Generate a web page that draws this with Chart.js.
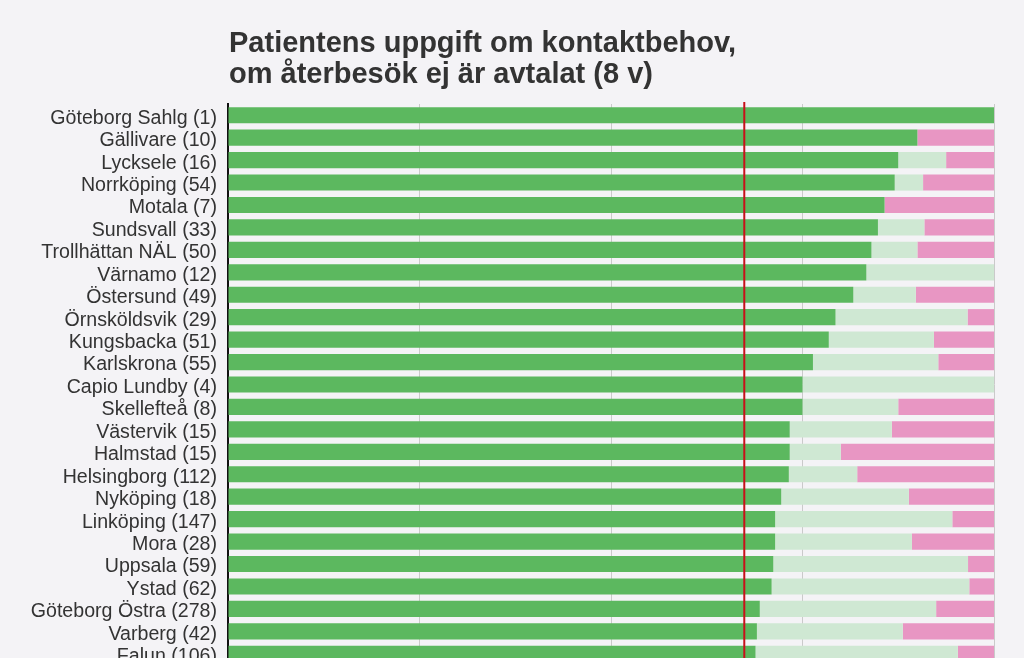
<!DOCTYPE html>
<html lang="sv">
<head>
<meta charset="utf-8">
<title>Patientens uppgift om kontaktbehov</title>
<script src="https://cdn.jsdelivr.net/npm/chart.js@4/dist/chart.umd.min.js"></script>
<style>
    html, body {
        margin: 0;
        padding: 0;
        background: #f4f3f6;
        overflow: hidden;
    }
    #wrap {
        position: relative;
        width: 1024px;
        height: 700px;
    }
</style>
</head>
<body>
<div id="wrap">
    <canvas id="kontaktChart" width="1024" height="700"></canvas>
</div>
<script>
// Kliniker (antal svar inom parentes)
const clinics = [
    'Göteborg Sahlg (1)', 'Gällivare (10)', 'Lycksele (16)', 'Norrköping (54)',
    'Motala (7)', 'Sundsvall (33)', 'Trollhättan NÄL (50)', 'Värnamo (12)',
    'Östersund (49)', 'Örnsköldsvik (29)', 'Kungsbacka (51)', 'Karlskrona (55)',
    'Capio Lundby (4)', 'Skellefteå (8)', 'Västervik (15)', 'Halmstad (15)',
    'Helsingborg (112)', 'Nyköping (18)', 'Linköping (147)', 'Mora (28)',
    'Uppsala (59)', 'Ystad (62)', 'Göteborg Östra (278)', 'Varberg (42)',
    'Falun (106)'
];

// Antal per svarskategori
const countYes     = [1, 9, 14, 47, 6, 28, 42, 10, 40, 23, 40, 42, 3, 6, 11, 11, 82, 13, 105, 20, 42, 44, 193, 29, 73];
const countPartly  = [0, 0, 1, 2, 0, 2, 3, 2, 4, 5, 7, 9, 1, 1, 2, 1, 10, 3, 34, 5, 15, 16, 64, 8, 28];
const countMissing = [0, 1, 1, 5, 1, 3, 5, 0, 5, 1, 4, 4, 0, 1, 2, 3, 20, 2, 8, 3, 2, 2, 21, 5, 5];

const xTicks = [0, 25, 50, 75, 100];
const targetLevel = 67.4; // röd målnivå (%)

// Gör om antal till andel i procent
function toShare(counts) {
    return counts.map((c, i) => {
        const total = countYes[i] + countPartly[i] + countMissing[i];
        return total ? (c / total) * 100 : 0;
    });
}

// Titel ritas vid diagramytans vänsterkant
const titlePlugin = {
    id: 'leftTitle',
    beforeDraw(chart) {
        const ctx = chart.ctx;
        ctx.save();
        ctx.fillStyle = '#f4f3f6';
        ctx.fillRect(0, 0, chart.width, chart.height);
        ctx.fillStyle = '#333333';
        ctx.font = 'bold 29px "Liberation Sans", Arial, sans-serif';
        ctx.textAlign = 'left';
        ctx.textBaseline = 'alphabetic';
        ctx.fillText('Patientens uppgift om kontaktbehov,', chart.chartArea.left + 1, 52);
        ctx.fillText('om återbesök ej är avtalat (8 v)', chart.chartArea.left + 1, 83);
        ctx.restore();
    }
};

// Röd vertikal linje för målnivån
const targetPlugin = {
    id: 'targetLine',
    afterDatasetsDraw(chart) {
        const ctx = chart.ctx;
        const x = chart.scales.x.getPixelForValue(targetLevel);
        const area = chart.chartArea;
        ctx.save();
        ctx.strokeStyle = '#c8101a';
        ctx.lineWidth = 2;
        ctx.beginPath();
        ctx.moveTo(x, area.top - 2);
        ctx.lineTo(x, area.bottom);
        ctx.stroke();
        ctx.restore();
    }
};

document.addEventListener('DOMContentLoaded', function() {
    const ctx = document.getElementById('kontaktChart').getContext('2d');
    new Chart(ctx, {
        type: 'bar',
        data: {
            labels: clinics,
            datasets: [
                {
                    label: 'Ja',
                    data: toShare(countYes),
                    backgroundColor: '#5cb85f'
                },
                {
                    label: 'Delvis',
                    data: toShare(countPartly),
                    backgroundColor: '#cfe8d3'
                },
                {
                    label: 'Uppgift saknas',
                    data: toShare(countMissing),
                    backgroundColor: '#e896c3'
                }
            ]
        },
        options: {
            indexAxis: 'y',
            responsive: false,
            animation: false,
            layout: {
                padding: { top: 104, right: 30, bottom: 35, left: 0 }
            },
            datasets: {
                bar: {
                    barPercentage: 0.72,
                    categoryPercentage: 1.0,
                    borderWidth: 0
                }
            },
            plugins: {
                legend: { display: false },
                title: { display: false },
                tooltip: { enabled: false }
            },
            scales: {
                x: {
                    stacked: true,
                    min: 0,
                    max: 100,
                    afterBuildTicks: function(scale) {
                        scale.ticks = xTicks.map(v => ({ value: v }));
                    },
                    ticks: { display: false },
                    grid: {
                        color: '#cacaca',
                        lineWidth: 1,
                        drawTicks: false
                    },
                    border: { display: false }
                },
                y: {
                    stacked: true,
                    afterFit: function(scale) {
                        scale.width = 228;
                    },
                    ticks: {
                        color: '#333333',
                        padding: 11,
                        labelOffset: 3,
                        autoSkip: false,
                        font: { family: '"Liberation Sans", Arial, sans-serif', size: 19.6 }
                    },
                    grid: { display: false, drawTicks: false },
                    border: { display: true, color: '#111111', width: 2 }
                }
            }
        },
        plugins: [titlePlugin, targetPlugin]
    });
});
</script>
</body>
</html>
